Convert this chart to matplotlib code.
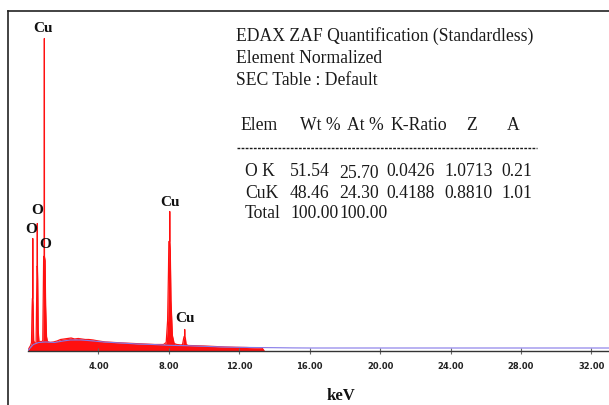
import matplotlib
matplotlib.use("Agg")
import matplotlib.pyplot as plt
from matplotlib.lines import Line2D

# spectrum (keV, counts in arbitrary units)
kev = [0.00, 0.08, 0.15, 0.20, 0.23, 0.25, 0.265, 0.27, 0.275, 0.29, 0.32,
       0.38, 0.46, 0.49, 0.51, 0.525, 0.53, 0.535, 0.55, 0.58, 0.62,
       0.70, 0.80, 0.84, 0.87, 0.89, 0.925, 0.93, 0.935, 0.97, 1.00, 1.05,
       1.10, 1.25, 1.45, 1.65, 1.85, 2.05, 2.25, 2.45, 2.65, 2.85, 3.05,
       3.25, 3.45, 3.70, 4.00, 4.40, 4.90, 5.40, 6.00, 6.60, 7.20, 7.70,
       7.85, 7.93, 7.98, 8.00, 8.045, 8.05, 8.055, 8.08, 8.12, 8.20, 8.30,
       8.45, 8.70, 8.78, 8.84, 8.87, 8.895, 8.90, 8.905, 8.94, 8.98,
       9.10, 9.50, 10.0, 10.6, 11.2, 11.8, 12.4, 13.0, 13.3, 13.4]
counts = [0, 3, 5, 8, 40, 52, 52, 112, 52, 45, 10,
          7, 8, 50, 84, 84, 127, 84, 70, 20, 9,
          9, 9, 10, 60, 94, 94, 312, 94, 90, 45, 14,
          9, 8, 8.5, 9.5, 11, 11.5, 12, 12.5, 11.5, 12, 11.5,
          11, 11, 10.5, 9.5, 8.5, 8, 7.5, 7, 6.5, 6, 6,
          8, 30, 80, 109, 109, 139, 109, 100, 50, 15, 7,
          6, 5.5, 6, 12, 14, 14, 21, 14, 12, 6,
          5, 4.8, 4.5, 4, 3.5, 3.2, 3, 2.6, 2.3, 0]

# fitted background (blue)
bg_kev = [0, 0.15, 0.3, 0.6, 1.0, 1.5, 2.0, 2.4, 3.0, 3.4, 4.3, 5.3, 6.2,
          7.1, 8.0, 9.0, 10.0, 10.9, 11.8, 12.8, 14.0, 15.0, 16.0, 33.0]
bg = [0, 3, 6, 8, 8.5, 8, 9.5, 10.5, 10.5, 10, 8.5, 7.5, 6.5,
      6, 5.2, 4.8, 4.2, 3.6, 3.2, 3.0, 2.8, 2.6, 2.5, 2.5]

peak_labels = ["Cu", "O", "O", "O", "Cu", "Cu"]
label_kev = [0.85, 0.54, 0.17, 0.97, 8.07, 8.89]
label_cnt = [322.5, 140.5, 121, 106.5, 148, 31.5]

xticks = [4, 8, 12, 16, 20, 24, 28, 32]

header_lines = ["EDAX ZAF Quantification (Standardless)",
                "Element Normalized",
                "SEC Table : Default"]
table_cols = ["Elem", "Wt %", "At %", "K-Ratio", "Z", "A"]
row_ok = ["O K", "51.54", "25.70", "0.0426", "1.0713", "0.21"]
row_cuk = ["CuK", "48.46", "24.30", "0.4188", "0.8810", "1.01"]
row_total = ["Total", "100.00", "100.00"]

W, H = 609, 405
fig = plt.figure(figsize=(W / 100, H / 100), dpi=100)


def fx(x):
    return x / W


def fy(y):
    return 1 - y / H


ax = fig.add_axes([fx(28), fy(350.5), 1 - fx(28), 340 / H])
ax.fill_between(kev, counts, 0, color="#ff1010", lw=0)
ax.plot(kev, counts, color="#ff1010", lw=0.9)
ax.plot(bg_kev, bg, color="#8478e8", lw=0.8)

for lab, x, y in zip(peak_labels, label_kev, label_cnt):
    ax.text(x, y, lab, ha="center", va="center", fontsize=11,
            fontweight="bold", family="Liberation Serif", color="#111111")

ax.set_xlim(0, 33.0)
ax.set_ylim(0, 340)
for s in ["top", "right", "left"]:
    ax.spines[s].set_visible(False)
ax.spines["bottom"].set_color("#333333")
ax.spines["bottom"].set_linewidth(1.0)
ax.set_yticks([])
ax.set_xticks(xticks)
ax.set_xticklabels([f"{t:.2f}" for t in xticks],
                   family=["Liberation Sans Narrow", "DejaVu Sans"],
                   fontweight="bold", fontsize=6, color="#222222")
ax.tick_params(axis="x", direction="inout", length=4, width=0.8,
               color="#666666", pad=6.5)
ax.patch.set_alpha(0)

fig.text(fx(341), fy(396), "keV", ha="center", va="center", fontsize=12,
         fontweight="bold", family="Liberation Serif", color="#111111")

# frame
fig.add_artist(Line2D([fx(8), 1], [fy(10.7), fy(10.7)], color="#222222", lw=1.2))
fig.add_artist(Line2D([fx(8), fx(8)], [fy(10.7), 0], color="#222222", lw=1.2))

# quantification text
txt = dict(family="Liberation Serif", fontsize=12.7, color="#1a1a1a",
           ha="left", va="center")
for i, line in enumerate(header_lines):
    fig.text(fx(236), fy(36.5 + 22 * i), line, **txt)

col_x = [240, 300, 347, 390, 466, 507]
for lab, x in zip(table_cols, col_x):
    fig.text(fx(x), fy(125), lab, **txt)
fig.add_artist(Line2D([fx(237), fx(537)], [fy(148), fy(148)], color="#1a1a1a",
                      lw=1.0, dashes=(2.0, 0.95)))

row_x = [245, 290, 339, 386, 444, 501]
for vals, y in [(row_ok, 171), (row_cuk, 193), (row_total, 214)]:
    for j, (v, x) in enumerate(zip(vals, row_x)):
        dy = 2 if (j == 2 and vals is row_ok) else 0
        fig.text(fx(x), fy(y + dy), v, **txt)

fig.savefig("out.png", dpi=100)
